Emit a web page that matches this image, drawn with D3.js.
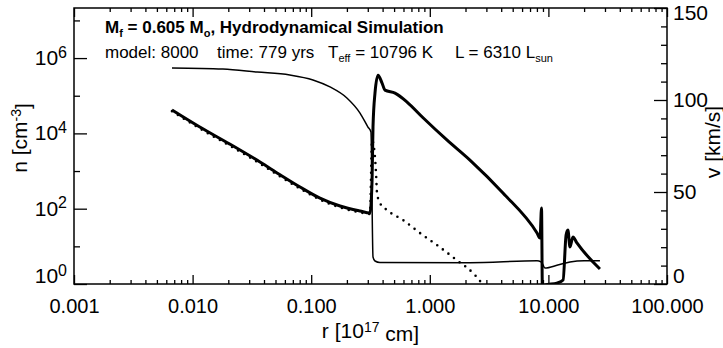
<!DOCTYPE html>
<html>
<head>
<meta charset="utf-8">
<script src="https://cdn.jsdelivr.net/npm/d3@7"></script>
<style>
  body { margin: 0; background: #fff; }
  svg { display: block; }
  text { font-family: "Liberation Sans", Arial, sans-serif; fill: #000; }
  .axis path { display: none; }
  .axis line { stroke: #000; stroke-width: 1.3; }
</style>
</head>
<body>
<svg width="723" height="348"></svg>
<script>
// density of the gas, thick line  (r in 1e17 cm, n in cm^-3)
var rThick = [0.0067, 0.0115, 0.0206, 0.037, 0.0546, 0.0806, 0.1185, 0.175, 0.258, 0.313,
              0.326, 0.332, 0.345, 0.366, 0.395, 0.419, 0.509, 0.643, 0.877, 1.40, 2.18, 4.14,
              8.02, 8.50, 8.75, 8.90, 9.35, 11.8, 13.3, 14.1, 14.6, 15.2, 16.1, 17.4, 27.2];
var nThick = [4.2e4, 1.48e4, 5200, 1740, 800, 376, 191, 118, 87, 77,
              575, 1.48e4, 1.17e5, 3.5e5, 2.2e5, 1.41e5, 1.17e5, 6.8e4, 2.6e4, 6600, 1950, 260,
              22.6, 16.6, 105, 0.69, 0.93, 1.06, 1.28, 20, 27, 9.6, 17.7, 12.3, 2.5];

// dotted line
var rDot = [0.0067, 0.0115, 0.0206, 0.037, 0.0546, 0.0806, 0.1185, 0.175, 0.258, 0.313,
            0.326, 0.338, 0.345, 0.352, 0.359, 0.380, 0.435, 0.594, 0.826, 1.15, 1.69, 2.31, 2.65, 2.98];
var nDot = [3.9e4, 1.35e4, 4700, 1580, 720, 340, 175, 108, 80, 72,
            6600, 4300, 2300, 890, 260, 141, 92, 50, 22.6, 10.8, 4.3, 1.96, 1.2, 0.65];

// velocity, thin line (km/s)
var rThin = [0.0067, 0.018, 0.035, 0.066, 0.1035, 0.144, 0.200, 0.258, 0.301, 0.319,
             0.332, 0.345, 0.380, 2.18, 8.02, 8.66, 8.84, 9.35, 12.0, 15.2, 20.0, 27.2];
var vThin = [117.4, 116.8, 115.2, 113.6, 110.9, 107.1, 101.1, 92.9, 85.3, 82.6,
             14.7, 12.5, 11.7, 11.6, 12.6, 12.0, 11.4, 8.7, 10.3, 12.0, 12.7, 12.6];

var xTicks = [0.001, 0.01, 0.1, 1, 10, 100];
var nTicks = [1, 1e2, 1e4, 1e6];
var nMinor = [1e1, 1e3, 1e5, 1e7];
var vTicks = [0, 50, 100, 150];

var pLeft = 74, pRight = 667, pTop = 8, pBottom = 284;

var svg = d3.select("svg");

var x = d3.scaleLog().domain([0.001, 100]).range([pLeft, pRight]);
var yN = d3.scaleLog().domain([1, Math.pow(10, 7.33)]).range([pBottom, pTop]);
var yV = d3.scaleLinear().domain([0, 150]).range([pBottom, pTop]);

svg.append("clipPath").attr("id", "plot")
  .append("rect").attr("x", pLeft).attr("y", pTop)
  .attr("width", pRight - pLeft).attr("height", pBottom - pTop);

// minor x ticks 2..9 in each decade
var xMinor = [];
xTicks.slice(0, -1).forEach(function(d) {
  for (var k = 2; k <= 9; k++) xMinor.push(d * k);
});

// bottom axis
svg.append("g").attr("class", "axis")
  .attr("transform", "translate(0," + pBottom + ")")
  .call(d3.axisBottom(x).tickValues(xTicks).tickSize(-9).tickPadding(15)
    .tickFormat(d3.format(".3f")))
  .selectAll("text").style("font-size", "20px");
svg.append("g").attr("class", "axis")
  .attr("transform", "translate(0," + pBottom + ")")
  .call(d3.axisBottom(x).tickValues(xMinor).tickSize(-4).tickFormat(""));

// top axis
svg.append("g").attr("class", "axis")
  .attr("transform", "translate(0," + pTop + ")")
  .call(d3.axisTop(x).tickValues(xTicks).tickSize(-9).tickFormat(""));
svg.append("g").attr("class", "axis")
  .attr("transform", "translate(0," + pTop + ")")
  .call(d3.axisTop(x).tickValues(xMinor).tickSize(-4).tickFormat(""));

// left axis (density)
var gl = svg.append("g").attr("class", "axis")
  .attr("transform", "translate(" + pLeft + ",0)")
  .call(d3.axisLeft(yN).tickValues(nTicks).tickSize(-13).tickPadding(7).tickFormat(""));
svg.append("g").attr("class", "axis")
  .attr("transform", "translate(" + pLeft + ",0)")
  .call(d3.axisLeft(yN).tickValues(nMinor).tickSize(-6).tickFormat(""));

gl.selectAll(".tick text").each(function(d) {
  var t = d3.select(this).attr("dy", d === 1 ? "-0.05em" : "0.3em").style("font-size", "21px");
  var p = Math.round(Math.log10(d));
  t.append("tspan").text("10");
  t.append("tspan").attr("dy", "-0.45em").style("font-size", "16px").text(p);
});

// right axis (velocity)
var vMinor = d3.range(0, 151, 10).filter(function(d) { return d % 50 !== 0; });
svg.append("g").attr("class", "axis")
  .attr("transform", "translate(" + pRight + ",0)")
  .call(d3.axisRight(yV).tickValues(vTicks).tickSize(-13).tickPadding(6))
  .selectAll("text").attr("dy", function(d) {
    return d === 0 ? "-0.05em" : (d === 150 ? "0.55em" : "0.32em");
  })
  .style("font-size", "21px");
svg.append("g").attr("class", "axis")
  .attr("transform", "translate(" + pRight + ",0)")
  .call(d3.axisRight(yV).tickValues(vMinor).tickSize(-6).tickFormat(""));

// frame
svg.append("rect")
  .attr("x", pLeft).attr("y", pTop)
  .attr("width", pRight - pLeft).attr("height", pBottom - pTop)
  .attr("fill", "none").attr("stroke", "#000").attr("stroke-width", 1.5);

// curves
var plot = svg.append("g").attr("clip-path", "url(#plot)");

var lineN = d3.line()
  .x(function(d) { return x(d[0]); })
  .y(function(d) { return yN(d[1]); })
  .curve(d3.curveMonotoneX);
var lineV = d3.line()
  .x(function(d) { return x(d[0]); })
  .y(function(d) { return yV(d[1]); })
  .curve(d3.curveMonotoneX);

plot.append("path")
  .datum(d3.zip(rDot, nDot))
  .attr("d", lineN)
  .attr("fill", "none").attr("stroke", "#000")
  .attr("stroke-width", 2.6).attr("stroke-linecap", "round")
  .attr("stroke-dasharray", "0,7");

plot.append("path")
  .datum(d3.zip(rThin, vThin))
  .attr("d", lineV)
  .attr("fill", "none").attr("stroke", "#000").attr("stroke-width", 1.5);

plot.append("path")
  .datum(d3.zip(rThick, nThick))
  .attr("d", lineN)
  .attr("fill", "none").attr("stroke", "#000")
  .attr("stroke-width", 3).attr("stroke-linejoin", "round");

// axis titles
var xl = svg.append("text").attr("x", (pLeft + pRight) / 2).attr("y", 338)
  .attr("text-anchor", "middle").style("font-size", "21px");
xl.append("tspan").text("r [10");
xl.append("tspan").attr("dy", "-0.45em").style("font-size", "14px").text("17");
xl.append("tspan").attr("dy", "0.45em").text(" cm]");

var yl = svg.append("text")
  .attr("transform", "translate(27,138) rotate(-90)")
  .attr("text-anchor", "middle").style("font-size", "21px");
yl.append("tspan").text("n [cm");
yl.append("tspan").attr("dy", "-0.45em").style("font-size", "14px").text("-3");
yl.append("tspan").attr("dy", "0.45em").text("]");

svg.append("text")
  .attr("transform", "translate(720,142) rotate(-90)")
  .attr("text-anchor", "middle").style("font-size", "21px")
  .text("v [km/s]");

// header lines; subscripts are lowered and the next piece lifted back
function header(xPos, yPos, bold, parts) {
  var t = svg.append("text").attr("x", xPos).attr("y", yPos)
    .style("font-size", "17px").style("font-weight", bold ? "bold" : "normal");
  var lowered = false;
  parts.forEach(function(p) {
    if (p.sub) {
      t.append("tspan").attr("dy", "4").style("font-size", "11px").text(p.sub);
      lowered = true;
    } else {
      t.append("tspan").attr("dy", lowered ? "-4" : null).text(p.t);
      lowered = false;
    }
  });
}
header(105, 33, true, [{t: "M"}, {sub: "f"}, {t: " = 0.605 M"}, {sub: "o"},
  {t: ", Hydrodynamical Simulation"}]);
header(105, 58, false, [{t: "model: 8000"}]);
header(217, 58, false, [{t: "time: 779 yrs"}]);
header(328, 58, false, [{t: "T"}, {sub: "eff"}, {t: " = 10796 K"}]);
header(455, 58, false, [{t: "L = 6310 L"}, {sub: "sun"}]);
</script>
</body>
</html>
